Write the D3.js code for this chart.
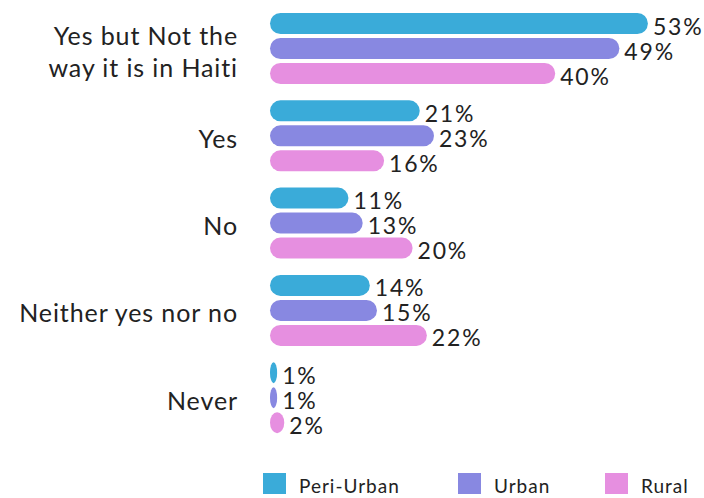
<!DOCTYPE html>
<html>
<head>
<meta charset="utf-8">
<script src="https://cdn.jsdelivr.net/npm/d3@7"></script>
<style>
  html, body { margin: 0; padding: 0; background: #fff; }
  svg { display: block; font-family: Lato, "Open Sans", sans-serif; }
</style>
</head>
<body>
<svg id="chart" width="704" height="498"></svg>
<script>
// Answer categories (each entry is one group of bars), with label lines
const categories = ["Yes but Not the way it is in Haiti", "Yes", "No", "Neither yes nor no", "Never"];
const categoryLines = [["Yes but Not the", "way it is in Haiti"], ["Yes"], ["No"], ["Neither yes nor no"], ["Never"]];
const seriesNames = ["Peri-Urban", "Urban", "Rural"];
const seriesColors = ["#3aabd9", "#8888e1", "#e68fe0"];

// Share of respondents (%) per category, by area
const periUrban = [53, 21, 11, 14, 1];
const urban     = [49, 23, 13, 15, 1];
const rural     = [40, 16, 20, 22, 2];
const seriesValues = [periUrban, urban, rural];

const svg = d3.select("#chart");

const x = d3.scaleLinear().domain([0, 60]).range([270, 270 + 60 * 7.13]);
const y = d3.scaleBand().domain(categories).range([13, 13 + 5 * 87.3]).paddingInner(0).paddingOuter(0);
const barH = 21, barStep = 25;

const groups = svg.selectAll("g.cat")
  .data(categories)
  .join("g")
  .attr("class", "cat")
  .attr("transform", d => `translate(0,${y(d)})`);

// Category labels, right-aligned next to the bars
groups.each(function(d, i) {
  const lines = categoryLines[i];
  const g = d3.select(this);
  const center = (barStep * 2 + barH) / 2;
  const lh = 32;
  lines.forEach((line, k) => {
    g.append("text")
      .attr("x", 238)
      .attr("y", center + 12 + (k - (lines.length - 1) / 2) * lh)
      .attr("text-anchor", "end")
      .attr("font-size", 25)
      .attr("letter-spacing", 0.9)
      .attr("fill", "#222")
      .text(line);
  });
});

// Bars with value labels
groups.each(function(d, i) {
  const g = d3.select(this);
  seriesValues.forEach((vals, s) => {
    const v = vals[i];
    const w = x(v) - x(0);
    g.append("rect")
      .attr("x", x(0))
      .attr("y", s * barStep)
      .attr("width", w)
      .attr("height", barH)
      .attr("rx", Math.min(barH / 2, w / 2))
      .attr("ry", barH / 2)
      .attr("fill", seriesColors[s]);
    g.append("text")
      .attr("x", x(v) + 5)
      .attr("y", s * barStep + barH + 0.5)
      .attr("font-size", 23)
      .attr("letter-spacing", 1.8)
      .attr("fill", "#222")
      .text(v + "%");
  });
});

// Legend
const legendX = [263, 458, 605];
const legend = svg.selectAll("g.legend")
  .data(seriesNames)
  .join("g")
  .attr("class", "legend")
  .attr("transform", (d, i) => `translate(${legendX[i]},473)`);
legend.append("rect").attr("width", 23).attr("height", 21).attr("fill", (d, i) => seriesColors[i]);
legend.append("text").attr("x", 36).attr("y", 20).attr("font-size", 19).attr("letter-spacing", 1)
  .attr("fill", "#222").text(d => d);
</script>
</body>
</html>
